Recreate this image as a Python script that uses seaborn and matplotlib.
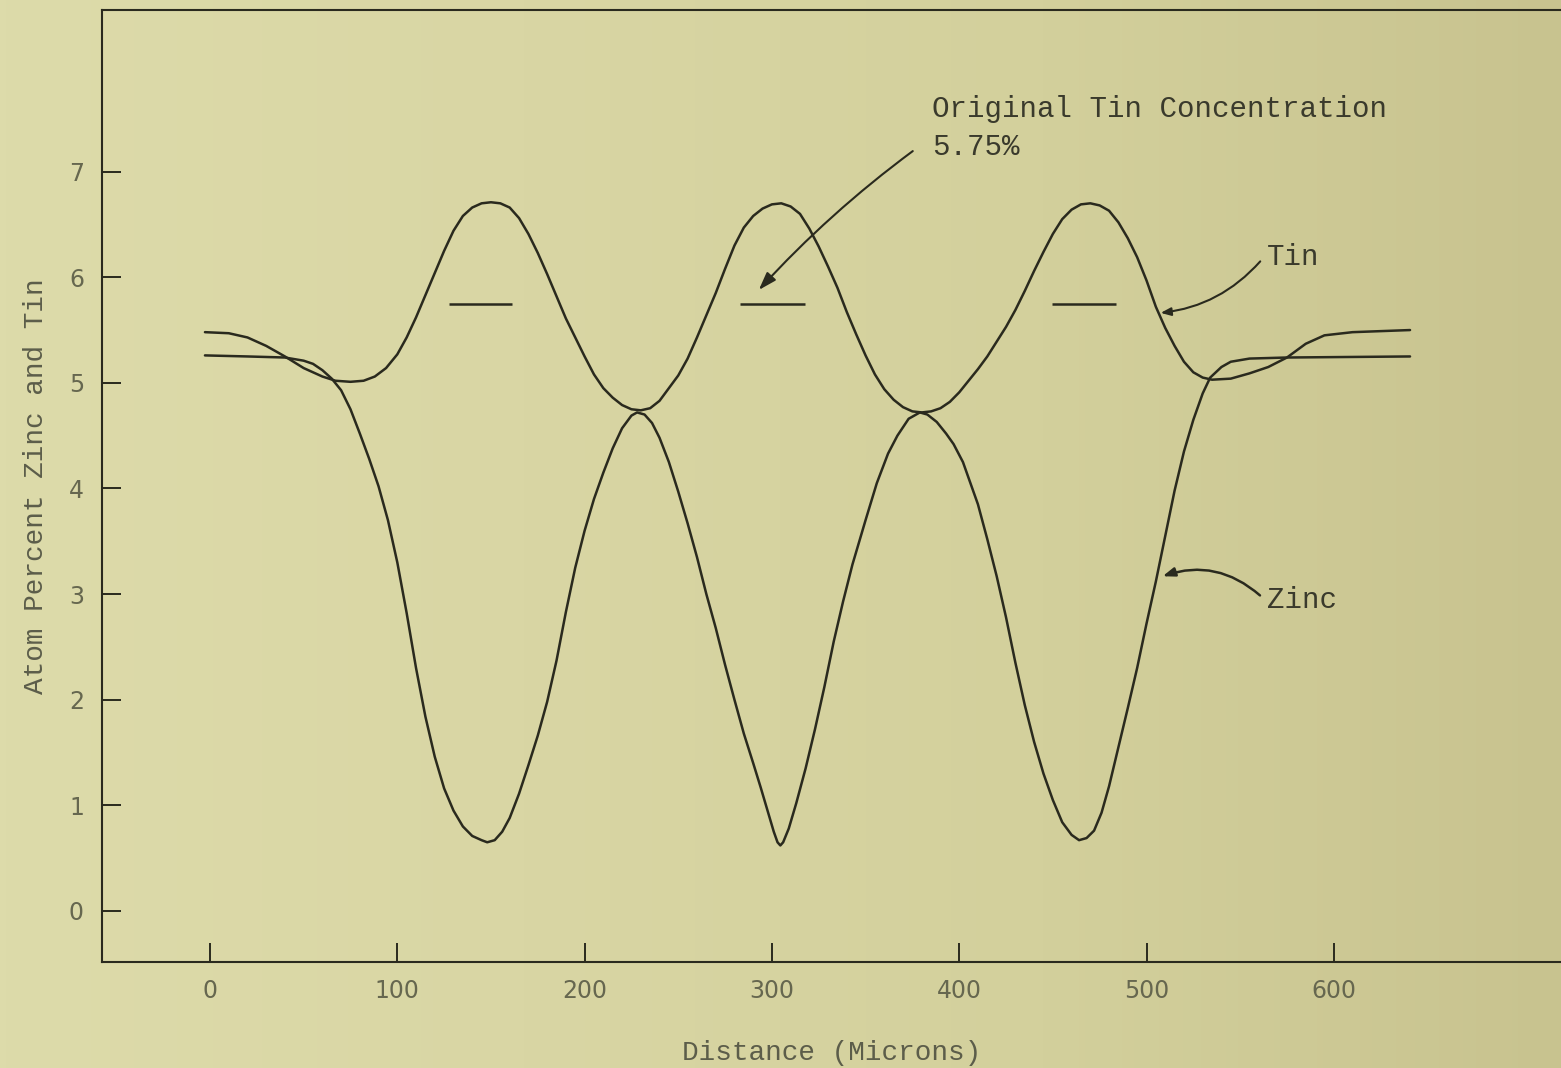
import numpy as np
import pandas as pd
import matplotlib
matplotlib.use("Agg")
import matplotlib.pyplot as plt
import seaborn as sns

# ---------------- data ----------------
tin_x = [-2.7, 10, 20, 30, 40, 50, 60, 67, 75, 82, 88, 94, 100, 105, 110, 115, 120,
         125, 130, 135, 140, 145, 150, 155, 160, 165, 170, 175, 180, 185, 190, 195,
         200, 205, 210, 215, 220, 225, 230, 235, 240, 245, 250, 255, 260, 265, 270,
         275, 280, 285, 290, 295, 300, 305, 310, 315, 320, 325, 330, 335, 340, 345,
         350, 355, 360, 365, 370, 375, 380, 385, 390, 395, 400, 405, 410, 415, 420,
         425, 430, 435, 440, 445, 450, 455, 460, 465, 470, 475, 480, 485, 490, 495,
         500, 505, 510, 515, 520, 525, 530, 535, 545, 555, 565, 575, 585, 595, 610,
         640.7]
tin_v = [5.48, 5.47, 5.43, 5.35, 5.25, 5.14, 5.06, 5.02, 5.01, 5.02, 5.06, 5.14, 5.27,
         5.43, 5.62, 5.83, 6.04, 6.25, 6.44, 6.58, 6.66, 6.70, 6.71, 6.70, 6.66, 6.56,
         6.41, 6.23, 6.03, 5.82, 5.61, 5.43, 5.25, 5.08, 4.95, 4.86, 4.79, 4.75, 4.74,
         4.76, 4.83, 4.95, 5.07, 5.23, 5.43, 5.64, 5.85, 6.08, 6.30, 6.47, 6.58, 6.65,
         6.69, 6.70, 6.67, 6.60, 6.46, 6.29, 6.10, 5.90, 5.67, 5.46, 5.26, 5.08, 4.94,
         4.84, 4.77, 4.73, 4.72, 4.73, 4.76, 4.82, 4.91, 5.02, 5.13, 5.25, 5.39, 5.53,
         5.69, 5.87, 6.06, 6.24, 6.41, 6.55, 6.64, 6.69, 6.70, 6.68, 6.63, 6.52, 6.37,
         6.19, 5.97, 5.72, 5.52, 5.35, 5.20, 5.10, 5.05, 5.03, 5.04, 5.09, 5.15, 5.24,
         5.37, 5.45, 5.48, 5.50]

zinc_x = [-2.7, 20, 40, 50, 55, 60, 65, 70, 75, 80, 85, 90, 95, 100, 105, 110, 115,
          120, 125, 130, 135, 140, 145, 148, 152, 156, 160, 165, 170, 175, 180, 185,
          190, 195, 200, 205, 210, 215, 220, 225, 228, 232, 236, 240, 245, 250, 255,
          260, 265, 270, 275, 280, 285, 290, 294, 298, 301, 303, 304.5, 306, 309, 313,
          318, 323, 328, 333, 338, 343, 350, 356, 362, 367, 373, 379, 383, 388, 393,
          397, 402, 406, 410, 415, 420, 425, 430, 435, 440, 445, 450, 455, 460, 464,
          468, 472, 476, 480, 485, 490, 495, 500, 505, 510, 515, 520, 525, 530, 534,
          540, 545, 555, 575, 640.7]
zinc_v = [5.26, 5.25, 5.24, 5.21, 5.18, 5.12, 5.04, 4.93, 4.75, 4.52, 4.28, 4.02, 3.70,
          3.30, 2.82, 2.30, 1.84, 1.46, 1.16, 0.95, 0.80, 0.71, 0.67, 0.65, 0.67, 0.75,
          0.88, 1.11, 1.38, 1.66, 1.98, 2.37, 2.83, 3.25, 3.60, 3.90, 4.15, 4.38, 4.57,
          4.69, 4.72, 4.70, 4.62, 4.48, 4.25, 3.97, 3.67, 3.35, 3.00, 2.68, 2.33, 2.00,
          1.68, 1.40, 1.17, 0.93, 0.75, 0.65, 0.62, 0.65, 0.78, 1.02, 1.35, 1.72, 2.12,
          2.55, 2.93, 3.28, 3.70, 4.05, 4.33, 4.50, 4.66, 4.72, 4.70, 4.63, 4.52, 4.42,
          4.25, 4.05, 3.85, 3.52, 3.17, 2.78, 2.35, 1.95, 1.60, 1.30, 1.05, 0.84, 0.72,
          0.67, 0.69, 0.76, 0.93, 1.18, 1.55, 1.92, 2.30, 2.72, 3.12, 3.55, 3.98, 4.35,
          4.65, 4.90, 5.05, 5.15, 5.20, 5.23, 5.24, 5.25]

orig_start = [127.6, 283.0, 449.5]
orig_end = [161.2, 317.7, 483.7]
orig_value = 5.75

x_ticks = [0, 100, 200, 300, 400, 500, 600]
y_ticks = [0, 1, 2, 3, 4, 5, 6, 7]

# ---------------- styling ----------------
ink = "#2a2a1e"
gray = "#5c5d4a"
mono = ["Liberation Mono", "DejaVu Sans Mono"]

sns.set_theme(style="white")
plt.rcParams["font.family"] = ["DejaVu Sans"]

fig = plt.figure(figsize=(15.61, 10.68), dpi=100)

# paper background gradient
bg = fig.add_axes([0, 0, 1, 1], zorder=-10)
grad = np.linspace(0, 1, 256)[None, :]
cmap = matplotlib.colors.LinearSegmentedColormap.from_list(
    "paper", ["#dddbaa", "#d9d6a4", "#d3d09c", "#c8c38f"])
bg.imshow(grad, aspect="auto", cmap=cmap, extent=[0, 1, 0, 1])
bg.axis("off")

ax = fig.add_axes([0.0653, 0.0993, 0.9347, 0.8913])
ax.patch.set_alpha(0)

df = pd.concat([
    pd.DataFrame({"x": tin_x, "v": tin_v, "series": "Tin"}),
    pd.DataFrame({"x": zinc_x, "v": zinc_v, "series": "Zinc"}),
], ignore_index=True)

sns.lineplot(data=df, x="x", y="v", hue="series", palette={"Tin": ink, "Zinc": ink},
             estimator=None, sort=False, legend=False, linewidth=1.8, ax=ax)
for ln in ax.get_lines():
    ln.set_solid_joinstyle("round")
    ln.set_solid_capstyle("round")

ax.hlines([orig_value] * len(orig_start), orig_start, orig_end, color=ink, linewidth=1.8)

ax.set_xlim(-57.7, 721.3)
ax.set_ylim(-0.483, 8.53)
ax.set_xticks(x_ticks)
ax.set_yticks(y_ticks)
ax.set_xticklabels([str(t) for t in x_ticks])
ax.set_yticklabels([str(t) for t in y_ticks])
ax.tick_params(axis="both", direction="in", length=14, width=1.4, color=ink,
               labelsize=17, labelcolor="#66674f")
ax.tick_params(axis="x", pad=12)
ax.tick_params(axis="y", pad=13)
ax.xaxis.set_ticks_position("bottom")
ax.yaxis.set_ticks_position("left")

for side in ["left", "top", "bottom"]:
    ax.spines[side].set_color(ink)
    ax.spines[side].set_linewidth(1.5)
ax.spines["right"].set_visible(False)

ax.set_xlabel("Distance (Microns)", family=mono, fontsize=20, color=gray, labelpad=27)
ax.set_ylabel("Atom Percent Zinc and Tin", family=mono, fontsize=20, color=gray, labelpad=14)

# annotations
txt = "#3a3a2c"
ax.text(385.5, 7.52, "Original Tin Concentration", family=mono, fontsize=21,
        color=txt, va="baseline", ha="left")
ax.text(385.5, 7.16, "5.75%", family=mono, fontsize=21, color=txt,
        va="baseline", ha="left")
ax.annotate("", xy=(292.0, 5.86), xytext=(376.4, 7.21),
            arrowprops=dict(arrowstyle="-|>,head_length=0.9,head_width=0.3", color=ink,
                            lw=1.5, connectionstyle="arc3,rad=0.05"))

ax.text(564.3, 6.12, "Tin", family=mono, fontsize=21, color=txt,
        va="baseline", ha="left")
ax.annotate("", xy=(506.1, 5.66), xytext=(561.7, 6.17),
            arrowprops=dict(arrowstyle="-|>,head_length=0.5,head_width=0.2", color=ink,
                            lw=1.5, connectionstyle="arc3,rad=-0.2"))

ax.text(564.3, 2.87, "Zinc", family=mono, fontsize=21, color=txt,
        va="baseline", ha="left")
ax.annotate("", xy=(507.2, 3.16), xytext=(561.7, 2.97),
            arrowprops=dict(arrowstyle="-|>,head_length=0.6,head_width=0.22", color=ink,
                            lw=1.8, connectionstyle="arc3,rad=0.3"))

fig.savefig("out.png", dpi=100)
